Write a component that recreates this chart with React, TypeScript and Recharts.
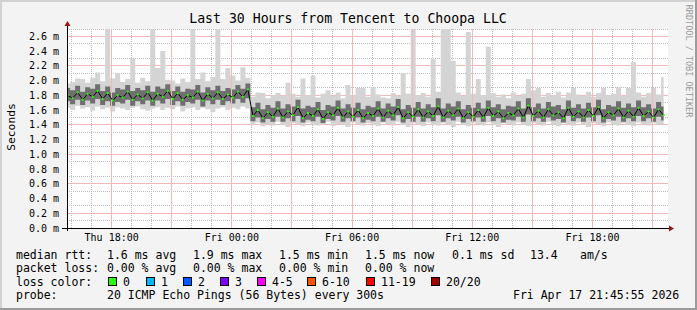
import React from "react";
import { ComposedChart, Area, Line, XAxis, YAxis, CartesianGrid, ReferenceLine } from "recharts";

const W = 697;
const H = 310;
// plot box in page pixels (rrdtool layout)
const PLOT = { left: 67, top: 29, right: 668, bottom: 228 };

// x axis: hours since Thu 00:00
const VIEW_START = 15.77;
const VIEW_HOURS = 30;
const SAMPLE_START = 15.8;
const SAMPLE_STEP = 0.25;

// median rtt (ms)
const median = [
  1.80, 1.76, 1.84, 1.74, 1.82, 1.78, 1.86, 1.75, 1.83, 1.73,
  1.80, 1.77, 1.85, 1.74, 1.81, 1.76, 1.84, 1.73, 1.82, 1.78,
  1.86, 1.75, 1.83, 1.74, 1.80, 1.77, 1.85, 1.73, 1.82, 1.76,
  1.84, 1.75, 1.81, 1.77, 1.85, 1.78, 1.88,
  1.52, 1.60, 1.49,
  1.57, 1.51, 1.62, 1.50, 1.58, 1.53, 1.64, 1.49, 1.56, 1.52,
  1.61, 1.48, 1.57, 1.53, 1.63, 1.50, 1.58, 1.51, 1.60, 1.49,
  1.56, 1.52, 1.62, 1.50, 1.59, 1.53, 1.64, 1.49, 1.57, 1.51,
  1.61, 1.50, 1.58, 1.52, 1.65, 1.50, 1.59, 1.53, 1.62, 1.49,
  1.57, 1.51, 1.60, 1.50, 1.63, 1.52, 1.58, 1.49, 1.56, 1.53,
  1.62, 1.50, 1.66, 1.52, 1.59, 1.50, 1.61, 1.53, 1.57, 1.49,
  1.63, 1.51, 1.58, 1.50, 1.60, 1.52, 1.64, 1.49, 1.57, 1.53,
  1.62, 1.50, 1.59, 1.51, 1.63, 1.52, 1.58, 1.50, 1.61, 1.53,
];

// fastest ping per step
const pingMin = [
  1.63, 1.60, 1.66, 1.62, 1.64, 1.59, 1.65, 1.61, 1.63, 1.58,
  1.64, 1.62, 1.60, 1.63, 1.65, 1.61, 1.59, 1.62, 1.64, 1.60,
  1.63, 1.61, 1.65, 1.58, 1.62, 1.64, 1.60, 1.63, 1.61, 1.57,
  1.62, 1.64, 1.60, 1.63, 1.61, 1.65, 1.62,
  1.40, 1.43, 1.38,
  1.41, 1.39, 1.44, 1.40, 1.37, 1.42, 1.41, 1.38, 1.43, 1.40,
  1.39, 1.42, 1.44, 1.38, 1.41, 1.40, 1.37, 1.43, 1.41, 1.39,
  1.42, 1.40, 1.38, 1.43, 1.41, 1.39, 1.44, 1.40, 1.37, 1.42,
  1.41, 1.38, 1.43, 1.40, 1.39, 1.42, 1.41, 1.37, 1.44, 1.40,
  1.38, 1.42, 1.41, 1.39, 1.43, 1.40, 1.37, 1.42, 1.41, 1.39,
  1.43, 1.40, 1.38, 1.42, 1.41, 1.39, 1.44, 1.40, 1.38, 1.42,
  1.41, 1.39, 1.43, 1.40, 1.37, 1.42, 1.41, 1.38, 1.43, 1.40,
  1.39, 1.42, 1.40, 1.38, 1.43, 1.41, 1.39, 1.42, 1.40, 1.41,
];

// slowest ping per step
const pingMax = [
  1.96, 1.98, 2.03, 2.02, 1.97, 2.04, 2.11, 1.99, 2.70, 2.03,
  2.10, 1.98, 2.02, 2.30, 1.97, 2.04, 1.99, 2.70, 2.17, 2.40,
  2.01, 2.00, 1.96, 2.03, 1.98, 2.70, 2.02, 2.11, 1.99, 2.05,
  2.70, 2.02, 2.17, 2.07, 2.00, 2.18, 2.04,
  1.78, 1.84, 1.83,
  1.76, 1.80, 1.83, 1.79, 1.97, 1.82, 1.78, 2.03, 1.80, 2.07,
  1.77, 1.82, 1.87, 1.79, 1.84, 1.76, 1.94, 1.80, 1.90, 1.90,
  1.78, 1.91, 1.81, 1.77, 1.76, 1.83, 1.79, 2.10, 1.82, 2.70,
  1.80, 1.83, 1.78, 2.29, 1.85, 2.70, 2.70, 2.27, 1.84, 1.79,
  2.66, 1.82, 2.02, 1.80, 2.46, 1.83, 1.78, 1.81, 1.76, 1.84,
  1.79, 1.82, 2.02, 1.87, 1.90, 1.78, 1.83, 1.80, 1.85, 1.77,
  1.84, 1.90, 1.81, 1.79, 1.85, 1.78, 1.83, 1.90, 1.80, 1.82,
  1.91, 1.79, 1.90, 2.25, 1.84, 1.78, 1.83, 1.90, 1.81, 2.05,
];

// dense smoke around the median
const smokeLo = [
  1.72, 1.68, 1.74, 1.67, 1.73, 1.69, 1.75, 1.67, 1.72, 1.66,
  1.71, 1.69, 1.74, 1.66, 1.72, 1.68, 1.73, 1.66, 1.73, 1.69,
  1.75, 1.67, 1.72, 1.66, 1.71, 1.69, 1.74, 1.65, 1.73, 1.68,
  1.74, 1.67, 1.72, 1.69, 1.75, 1.70, 1.76,
  1.45, 1.50, 1.43,
  1.48, 1.44, 1.51, 1.44, 1.49, 1.45, 1.52, 1.43, 1.47, 1.45,
  1.51, 1.42, 1.48, 1.46, 1.52, 1.44, 1.49, 1.45, 1.50, 1.43,
  1.47, 1.45, 1.51, 1.44, 1.49, 1.46, 1.53, 1.43, 1.48, 1.44,
  1.51, 1.44, 1.49, 1.45, 1.53, 1.44, 1.49, 1.46, 1.51, 1.43,
  1.48, 1.45, 1.50, 1.44, 1.52, 1.45, 1.49, 1.43, 1.47, 1.46,
  1.51, 1.44, 1.54, 1.45, 1.49, 1.44, 1.50, 1.46, 1.48, 1.43,
  1.52, 1.45, 1.49, 1.44, 1.50, 1.45, 1.53, 1.43, 1.48, 1.46,
  1.51, 1.44, 1.49, 1.45, 1.52, 1.45, 1.49, 1.44, 1.51, 1.46,
];

const smokeHi = [
  1.90, 1.87, 1.93, 1.85, 1.91, 1.89, 1.95, 1.86, 1.92, 1.84,
  1.90, 1.88, 1.94, 1.86, 1.90, 1.87, 1.93, 1.85, 1.92, 1.89,
  1.95, 1.86, 1.92, 1.85, 1.89, 1.88, 1.94, 1.84, 1.91, 1.87,
  1.93, 1.86, 1.90, 1.88, 1.94, 1.89, 1.96,
  1.64, 1.70, 1.61,
  1.67, 1.63, 1.72, 1.62, 1.68, 1.65, 1.74, 1.62, 1.66, 1.64,
  1.71, 1.60, 1.67, 1.65, 1.73, 1.62, 1.68, 1.63, 1.70, 1.61,
  1.66, 1.64, 1.72, 1.62, 1.69, 1.65, 1.75, 1.61, 1.67, 1.63,
  1.71, 1.62, 1.68, 1.64, 1.76, 1.62, 1.69, 1.65, 1.72, 1.61,
  1.67, 1.63, 1.70, 1.62, 1.73, 1.64, 1.68, 1.61, 1.66, 1.65,
  1.72, 1.62, 1.76, 1.64, 1.69, 1.62, 1.71, 1.65, 1.67, 1.61,
  1.73, 1.63, 1.68, 1.62, 1.70, 1.64, 1.74, 1.61, 1.67, 1.65,
  1.72, 1.63, 1.69, 1.64, 1.73, 1.64, 1.68, 1.62, 1.71, 1.65,
];

const labelHours = [18, 24, 30, 36, 42];
const labelTexts = ["Thu 18:00", "Fri 00:00", "Fri 06:00", "Fri 12:00", "Fri 18:00"];
const yTicks = [0, 0.2, 0.4, 0.6, 0.8, 1.0, 1.2, 1.4, 1.6, 1.8, 2.0, 2.2, 2.4, 2.6];

const lossColors = [
  { label: "0", color: "#26ff00", x: 108 },
  { label: "1", color: "#00b8ff", x: 146 },
  { label: "2", color: "#0059ff", x: 183 },
  { label: "3", color: "#7e00ff", x: 220 },
  { label: "4-5", color: "#ff00ff", x: 257 },
  { label: "6-10", color: "#ff5500", x: 307 },
  { label: "11-19", color: "#ff0000", x: 366 },
  { label: "20/20", color: "#a10000", x: 431 },
];

const data = median.map((m, i) => ({
  t: SAMPLE_START + i * SAMPLE_STEP,
  median: m,
  outer: [pingMin[i], pingMax[i]],
  inner: [smokeLo[i], smokeHi[i]],
}));

// grid: minor every hour / 0.1 ms, major every 3 hours / 0.2 ms
const gridHours: number[] = [];
for (let h = 16; h <= 45; h++) gridHours.push(h);
const majorHours = gridHours.filter((h) => h % 3 === 0);
const minorHours = gridHours.filter((h) => h % 3 !== 0);
const yMinor: number[] = [];
for (let k = 1; k <= 27; k += 2) yMinor.push(k / 10);
const yMajor = yTicks.filter((v) => v > 0);

const MONO = "'DejaVu Sans Mono', monospace";
const MINOR = "#bdbdbd";
const MAJOR = "#f5b8b8";
const ARROW = "#a01010";

const X_DOMAIN: [number, number] = [VIEW_START, VIEW_START + VIEW_HOURS];
const Y_DOMAIN: [number, number] = [0, 2.7];
const plotMargin = { top: PLOT.top, right: W - PLOT.right, bottom: H - PLOT.bottom, left: PLOT.left };

function LossDot(props: any) {
  const { cx, cy, index } = props;
  if (cx == null || cy == null) return null;
  return <rect key={`d${index}`} x={cx - 1} y={cy - 1} width={2} height={2} fill="#26ff00" />;
}

const legendRows = [
  {
    y: 258.5,
    parts: [
      [16, "median rtt:"],
      [107, "1.6 ms avg"],
      [193, "1.9 ms max"],
      [279, "1.5 ms min"],
      [365, "1.5 ms now"],
      [452, "0.1 ms sd"],
      [530, "13.4"],
      [580, "am/s"],
    ],
  },
  {
    y: 272,
    parts: [
      [16, "packet loss:"],
      [107, "0.00 % avg"],
      [193, "0.00 % max"],
      [279, "0.00 % min"],
      [365, "0.00 % now"],
    ],
  },
  { y: 285.5, parts: [[16, "loss color:"]] },
  {
    y: 299,
    parts: [
      [16, "probe:"],
      [107, "20 ICMP Echo Pings (56 Bytes) every 300s"],
      [513, "Fri Apr 17 21:45:55 2026"],
    ],
  },
];

const css = `
.recharts-cartesian-grid line, .recharts-reference-line-line { shape-rendering: crispEdges; }
.recharts-cartesian-axis-tick-value { fill: #000; }
`;

export default function App() {
  return (
    <div style={{ position: "absolute", left: 0, top: 0, width: W, height: H, background: "#f3f3f3" }}>
      <style>{css}</style>
      <svg width={W} height={H} style={{ position: "absolute", left: 0, top: 0 }}>
        <rect x={PLOT.left} y={PLOT.top} width={PLOT.right - PLOT.left} height={PLOT.bottom - PLOT.top} fill="#ffffff" />
        <line x1={0} y1={1} x2={W} y2={1} stroke="#d2d2d2" strokeWidth={2} />
        <line x1={1} y1={0} x2={1} y2={H} stroke="#d2d2d2" strokeWidth={2} />
        <line x1={0} y1={H - 1} x2={W} y2={H - 1} stroke="#9c9c9c" strokeWidth={2} />
        <line x1={W - 1} y1={0} x2={W - 1} y2={H} stroke="#9c9c9c" strokeWidth={2} />
        <text x={348} y={22.5} textAnchor="middle" fontFamily={MONO} fontSize={13.2} fill="#000">
          Last 30 Hours from Tencent to Choopa LLC
        </text>
        <text transform="translate(11,127) rotate(-90)" dy="0.35em" textAnchor="middle" fontFamily={MONO} fontSize={11.3} fill="#000">
          Seconds
        </text>
        <text transform="translate(688.5,61) rotate(90)" dy="0.35em" textAnchor="middle" fontFamily={MONO} fontSize={8.5} fill="#9a9a9a">
          RRDTOOL / TOBI OETIKER
        </text>
        {legendRows.map((row, r) =>
          row.parts.map(([x, s], j) => (
            <text key={`${r}-${j}`} x={x as number} y={row.y} fontFamily={MONO} fontSize={11.5} fill="#000" style={{ whiteSpace: "pre" }}>
              {s as string}
            </text>
          ))
        )}
        {lossColors.map((c) => (
          <g key={c.label}>
            <rect x={c.x + 0.5} y={277.5} width={8} height={8} fill={c.color} stroke="#000" strokeWidth={1} />
            <text x={c.x + 15} y={285.5} fontFamily={MONO} fontSize={11.5} fill="#000">
              {c.label}
            </text>
          </g>
        ))}
      </svg>

      {/* major (red) horizontal grid, same scales as the data chart */}
      <div style={{ position: "absolute", left: 0, top: 0 }}>
        <ComposedChart width={W} height={H} data={data} margin={plotMargin}>
          <XAxis type="number" dataKey="t" domain={X_DOMAIN} allowDataOverflow hide />
          <YAxis type="number" domain={Y_DOMAIN} allowDataOverflow hide />
          <CartesianGrid horizontalValues={yMajor} vertical={false} stroke={MAJOR} />
        </ComposedChart>
      </div>

      <div style={{ position: "absolute", left: 0, top: 0 }}>
        <ComposedChart
          width={W}
          height={H}
          data={data}
          margin={{ top: PLOT.top, right: W - PLOT.right, bottom: H - PLOT.bottom - 30, left: PLOT.left - 60 }}
        >
          <XAxis
            type="number"
            dataKey="t"
            domain={X_DOMAIN}
            allowDataOverflow
            ticks={labelHours}
            interval={0}
            tickFormatter={(v: number) => labelTexts[labelHours.indexOf(v)] ?? ""}
            height={30}
            axisLine={false}
            tickLine={false}
            tickSize={3}
            tickMargin={3}
            tick={{ fontSize: 10, fontFamily: MONO, fill: "#000" }}
          />
          <YAxis
            type="number"
            domain={Y_DOMAIN}
            allowDataOverflow
            ticks={yTicks}
            interval={0}
            tickFormatter={(v: number) => `${v.toFixed(1)} m`}
            width={60}
            axisLine={false}
            tickLine={false}
            tickSize={0}
            tickMargin={8}
            tick={{ fontSize: 10, fontFamily: MONO, fill: "#000" }}
          />
          <CartesianGrid
            horizontalValues={yMinor}
            verticalValues={minorHours}
            stroke={MINOR}
            strokeDasharray="1 1"
          />
          {majorHours.map((h) => (
            <ReferenceLine key={`vx${h}`} x={h} stroke={MAJOR} strokeWidth={1} ifOverflow="visible" />
          ))}
          <Area
            dataKey="outer"
            type="step"
            stroke="none"
            fill="#d4d4d4"
            fillOpacity={1}
            isAnimationActive={false}
            activeDot={false}
          />
          <Area
            dataKey="inner"
            type="step"
            stroke="none"
            fill="#555555"
            fillOpacity={0.8}
            isAnimationActive={false}
            activeDot={false}
          />
          <Line
            dataKey="median"
            type="linear"
            stroke="#000"
            strokeWidth={1}
            dot={LossDot}
            activeDot={false}
            isAnimationActive={false}
          />
        </ComposedChart>
      </div>

      <svg width={W} height={H} style={{ position: "absolute", left: 0, top: 0, pointerEvents: "none" }}>
        <line x1={PLOT.left + 0.5} y1={PLOT.bottom + 3} x2={PLOT.left + 0.5} y2={PLOT.top - 6} stroke="#000" strokeWidth={1} />
        <line x1={PLOT.left - 5} y1={PLOT.bottom + 0.5} x2={PLOT.right + 4} y2={PLOT.bottom + 0.5} stroke="#000" strokeWidth={1} />
        <polygon points={`${PLOT.left - 2.5},${PLOT.top - 3} ${PLOT.left + 3.5},${PLOT.top - 3} ${PLOT.left + 0.5},${PLOT.top - 8}`} fill={ARROW} />
        <polygon points={`${PLOT.right + 1},${PLOT.bottom - 2.5} ${PLOT.right + 1},${PLOT.bottom + 3.5} ${PLOT.right + 6},${PLOT.bottom + 0.5}`} fill={ARROW} />
      </svg>
    </div>
  );
}
